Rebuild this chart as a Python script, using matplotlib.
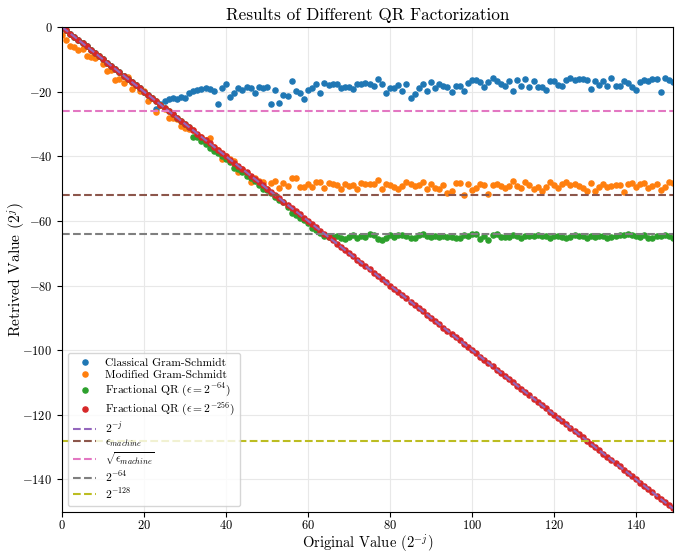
import matplotlib
matplotlib.use("Agg")
import matplotlib.pyplot as plt
import numpy as np

plt.rcParams['font.family'] = 'serif'
plt.rcParams['font.serif'] = ['cmr10']
plt.rcParams['mathtext.fontset'] = 'cm'
plt.rcParams['axes.formatter.use_mathtext'] = True
plt.rcParams['axes.unicode_minus'] = True

# exponent j of the original value 2^-j
j = list(range(150))

# retrieved exponents (log2 of recovered value)
classical_gs = [
    0, -1, -2, -3, -4, -5, -6, -7, -8, -9,
    -10, -11, -12, -13, -14, -15, -16, -17, -18, -19,
    -20, -21, -22, -25.4, -23.8, -23.0, -22.2, -22.1, -22.4, -21.5,
    -21.9, -20.5, -19.8, -19.5, -19.3, -18.8, -19.3, -19.7, -23.7, -18.8,
    -17.7, -21.8, -20.4, -18.9, -19.6, -18.5, -19.0, -20.5, -18.7, -18.9,
    -18.5, -23.8, -19.4, -23.5, -21.1, -21.4, -16.8, -19.8, -20.3, -22.2,
    -19.5, -18.9, -17.6, -20.5, -17.4, -17.9, -17.6, -17.5, -18.8, -18.5,
    -18.5, -19.2, -17.7, -17.5, -17.2, -17.6, -18.3, -16.1, -17.6, -20.4,
    -19.0, -19.0, -17.9, -19.9, -17.7, -21.9, -20.6, -18.9, -17.5, -19.7,
    -16.9, -19.0, -17.5, -18.2, -18.7, -20.0, -18.2, -18.4, -19.7, -17.2,
    -16.3, -16.3, -17.1, -18.5, -17.1, -15.8, -16.6, -17.5, -18.2, -16.7,
    -19.9, -16.4, -18.3, -16.2, -18.6, -16.6, -18.7, -18.7, -19.5, -16.8,
    -16.6, -17.9, -18.3, -16.4, -15.8, -16.5, -16.2, -16.2, -16.5, -19.2,
    -16.7, -17.8, -16.7, -18.4, -15.9, -18.1, -18.1, -16.7, -17.4, -18.5,
    -19.4, -17.1, -16.5, -16.7, -16.1, -16.2, -20.0, -15.7, -16.4, -17.1,
]

modified_gs = [
    -2.5, -4.0, -5.8, -6.1, -7.1, -6.9, -9.1, -9.4, -9.6, -9.0,
    -11.5, -13.7, -13.2, -16.5, -16.0, -17.3, -15.5, -19.2, -18.0, -19.7,
    -19.9, -23.0, -22.0, -26.4, -24.0, -25.3, -28.1, -28.1, -28.4, -30.7,
    -31.2, -31.7, -32.0, -33.3, -34.0, -35.0, -34.3, -37.0, -38.2, -40.7,
    -40.0, -40.9, -41.5, -45.0, -44.0, -45.2, -48.1, -46.8, -47.8, -48.1,
    -50.0, -48.2, -47.7, -49.7, -48.4, -49.2, -46.8, -46.6, -49.5, -49.5,
    -48.5, -49.6, -48.0, -48.0, -49.9, -48.3, -48.5, -48.8, -50.2, -48.5,
    -49.2, -48.9, -50.2, -48.2, -48.5, -48.6, -48.6, -47.4, -50.2, -48.7,
    -49.0, -49.6, -50.1, -49.2, -48.1, -48.7, -49.3, -49.0, -48.1, -50.2,
    -48.7, -49.8, -50.1, -49.0, -51.3, -50.7, -48.3, -48.2, -52.1, -48.6,
    -50.5, -49.7, -48.7, -48.8, -51.8, -49.0, -48.7, -49.1, -49.8, -49.1,
    -47.7, -49.3, -49.7, -48.0, -48.9, -50.1, -49.6, -50.6, -49.4, -47.9,
    -49.0, -49.9, -48.6, -48.1, -48.8, -48.5, -49.2, -49.9, -50.7, -48.2,
    -50.6, -49.6, -48.6, -49.4, -49.3, -49.0, -48.9, -51.1, -48.5, -48.2,
    -49.5, -48.7, -48.4, -49.7, -49.2, -48.7, -50.5, -49.4, -47.9, -48.4,
]

fractional_64 = [
    0, -1, -2, -3, -4, -5, -6, -7, -8, -9,
    -10, -11, -12, -13, -14, -15, -16, -17, -18, -19,
    -20, -21, -22, -23, -24, -25, -26, -27, -28, -29,
    -30, -31, -33.9, -34.0, -35.3, -36.3, -37.3, -38.4, -39.1, -39.9,
    -40.8, -41.8, -43.5, -43.8, -45.0, -46.1, -46.8, -47.8, -48.9, -50.1,
    -50.4, -51.5, -52.5, -53.5, -54.3, -55.8, -57.5, -58.3, -59.2, -59.6,
    -60.8, -62.2, -62.7, -63.8, -64.7, -65.0, -65.0, -64.7, -65.2, -65.5,
    -65.0, -64.5, -65.2, -64.7, -65.0, -64.2, -64.5, -65.5, -65.8, -65.3,
    -64.5, -65.0, -64.5, -64.3, -64.7, -65.2, -65.2, -64.5, -64.2, -64.7,
    -65.0, -64.7, -65.0, -64.7, -65.0, -64.9, -65.2, -65.2, -64.5, -64.7,
    -64.2, -64.2, -65.7, -64.7, -65.8, -64.5, -64.0, -65.0, -65.0, -65.0,
    -64.5, -64.7, -65.3, -64.7, -64.7, -64.7, -64.5, -64.7, -64.7, -65.2,
    -64.7, -64.7, -65.0, -65.3, -65.0, -64.5, -64.7, -64.7, -65.2, -64.7,
    -65.0, -64.7, -64.7, -65.2, -65.0, -64.7, -64.5, -64.5, -64.2, -64.5,
    -64.7, -65.0, -64.5, -65.3, -65.3, -64.7, -64.7, -64.5, -64.7, -65.2,
]

fractional_256 = [
    0, -1, -2, -3, -4, -5, -6, -7, -8, -9,
    -10, -11, -12, -13, -14, -15, -16, -17, -18, -19,
    -20, -21, -22, -23, -24, -25, -26, -27, -28, -29,
    -30, -31, -32, -33, -34, -35, -36, -37, -38, -39,
    -40, -41, -42, -43, -44, -45, -46, -47, -48, -49,
    -50, -51, -52, -53, -54, -55, -56, -57, -58, -59,
    -60, -61, -62, -63, -64, -65, -66, -67, -68, -69,
    -70, -71, -72, -73, -74, -75, -76, -77, -78, -79,
    -80, -81, -82, -83, -84, -85, -86, -87, -88, -89,
    -90, -91, -92, -93, -94, -95, -96, -97, -98, -99,
    -100, -101, -102, -103, -104, -105, -106, -107, -108, -109,
    -110, -111, -112, -113, -114, -115, -116, -117, -118, -119,
    -120, -121, -122, -123, -124, -125, -126, -127, -128, -129,
    -130, -131, -132, -133, -134, -135, -136, -137, -138, -139,
    -140, -141, -142, -143, -144, -145, -146, -147, -148, -149,
]

# reference levels (log2)
eps_machine = -52
sqrt_eps_machine = -26
level_64 = -64
level_128 = -128

fig = plt.figure(figsize=(6.75, 5.52), dpi=100)
ax = fig.add_axes([0.092, 0.073, 0.905, 0.878])

ms = 3.7
ax.plot(j, classical_gs, 'o', ms=ms, color='C0', label='Classical Gram-Schmidt')
ax.plot(j, modified_gs, 'o', ms=ms, color='C1', label='Modified Gram-Schmidt')
ax.plot(j, fractional_64, 'o', ms=ms, color='C2', label=r'Fractional QR ($\epsilon=2^{-64}$)')
ax.plot(j, fractional_256, 'o', ms=ms, color='C3', label=r'Fractional QR ($\epsilon=2^{-256}$)')

ax.plot(j, [-v for v in j], '--', color='C4', lw=1.5, label=r'$2^{-j}$')
ax.axhline(eps_machine, ls='--', color='C5', lw=1.5, label=r'$\epsilon_{machine}$')
ax.axhline(sqrt_eps_machine, ls='--', color='C6', lw=1.5, label=r'$\sqrt{\epsilon_{machine}}$')
ax.axhline(level_64, ls='--', color='C7', lw=1.5, label=r'$2^{-64}$')
ax.axhline(level_128, ls='--', color='C8', lw=1.5, label=r'$2^{-128}$')

ax.set_xlim(0, 149)
ax.set_ylim(-150, 0)
ax.set_xticks(np.arange(0, 141, 20))
ax.set_yticks(np.arange(-140, 1, 20))
ax.grid(True, color='#e8e8e8', lw=0.8)
ax.set_axisbelow(True)
ax.tick_params(labelsize=9)
ax.tick_params(axis='x', pad=1.5)

ax.set_title('Results of Different QR Factorization', fontsize=12.3, pad=5)
ax.set_xlabel(r'Original Value ($2^{-j}$)', fontsize=10.5)
ax.set_ylabel(r'Retrived Value ($2^j$)', fontsize=11.2)
ax.xaxis.set_label_coords(0.5, -0.042)
ax.yaxis.set_label_coords(-0.056, 0.5)

ax.legend(loc='lower left', fontsize=8.3, labelspacing=0.16,
          handlelength=2.0, borderpad=0.45)

fig.savefig('out.png', dpi=100)
